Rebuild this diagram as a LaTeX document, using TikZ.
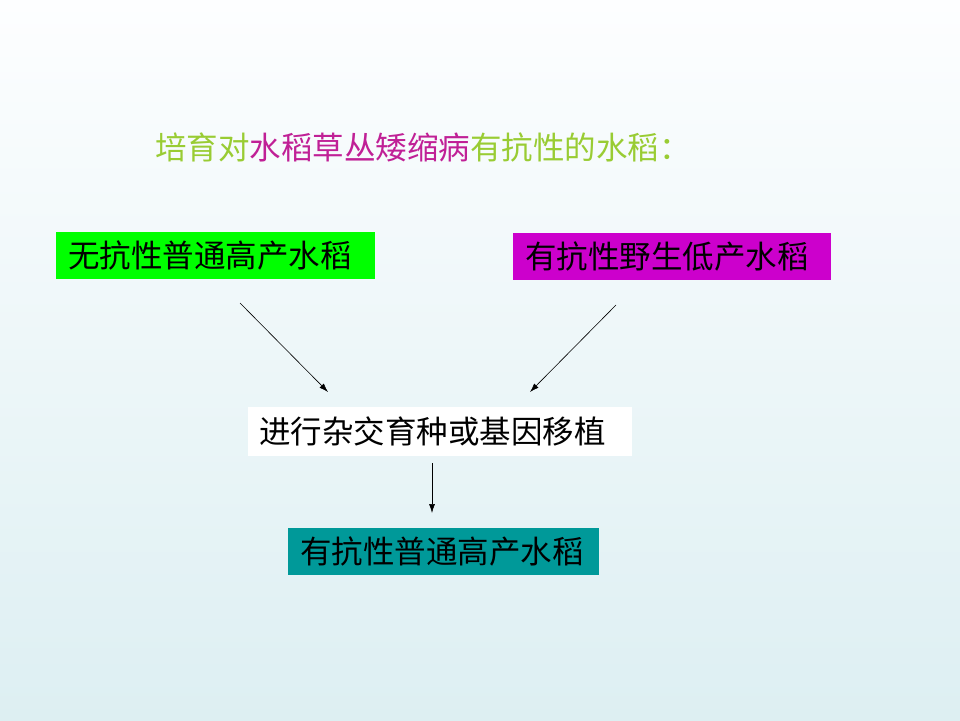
\documentclass[tikz,border=0pt]{standalone}
\usepackage{fontspec}
\newfontfamily\cjk{Noto Sans CJK SC}
\usepackage{xcolor}
\usetikzlibrary{arrows.meta,positioning}

\definecolor{bgtop}{RGB}{253,254,255}
\definecolor{bgbot}{RGB}{221,239,242}
\definecolor{titlegreen}{RGB}{153,204,51}
\definecolor{titlepink}{RGB}{192,32,150}
\definecolor{plaingreen}{RGB}{0,255,0}
\definecolor{wildpink}{RGB}{204,0,204}
\definecolor{resultteal}{RGB}{0,153,153}

\tikzset{
  box/.style={inner xsep=12pt, inner ysep=0pt, minimum height=47pt,
    align=left, font=\cjk\fontsize{31.5}{36}\selectfont, text=black},
  arr/.style={-{Latex[length=9pt,width=6pt]}, line width=0.6pt}
}

\begin{document}
\begin{tikzpicture}[x=1pt,y=-1pt]

% background
\shade[top color=bgtop, bottom color=bgbot] (0,0) rectangle (960,720);
\useasboundingbox (0,0) rectangle (960,720);

% title
\node[anchor=west, inner sep=0pt, font=\cjk\fontsize{31.5}{36}\selectfont] (title) at (155,147)
  {\textcolor{titlegreen}{培育对}\textcolor{titlepink}{水稻草丛矮缩病}\textcolor{titlegreen}{有抗性的水稻：}};

% parent lines
\node[box, fill=plaingreen, text width=295pt] (plain) at (215.5,255.5) {无抗性普通高产水稻};
\node[box, fill=wildpink, text width=294pt] (wild) at (672,256.5) {有抗性野生低产水稻};

% method
\node[box, fill=white, inner xsep=11pt, minimum height=49pt, text width=362pt] (cross) at (440,431.5) {进行杂交育种或基因移植};

% result
\node[box, fill=resultteal, text width=287pt] (result) at (443.5,551.5) {有抗性普通高产水稻};

% arrows
\coordinate (p1) at (240,303);
\coordinate (p2) at (328,392);
\coordinate (w1) at (616,305);
\coordinate (w2) at (530,392);
\coordinate (c1) at (432,463);
\coordinate (c2) at (432,513);

\draw[arr] (p1) -- (p2);
\draw[arr] (w1) -- (w2);
\draw[arr] (c1) -- (c2);

\end{tikzpicture}
\end{document}
